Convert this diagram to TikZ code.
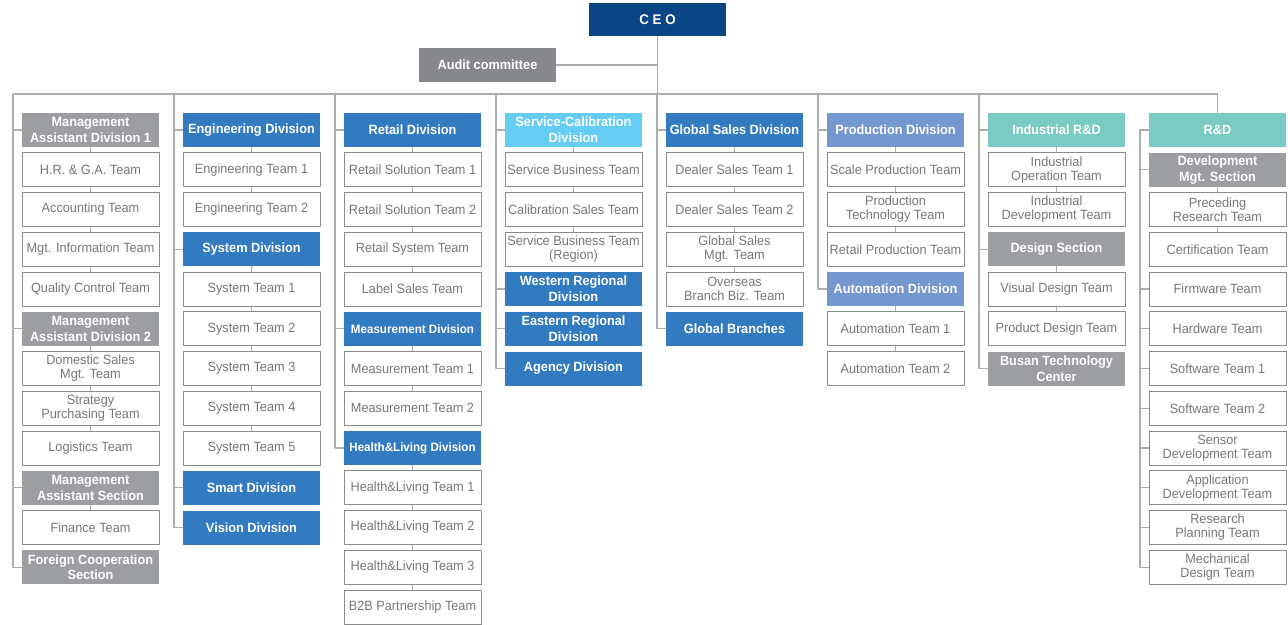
\documentclass[tikz,border=0pt]{standalone}
\usepackage{fontspec}
\setmainfont[FakeStretch=0.95]{Liberation Sans}
\definecolor{ceoblue}{HTML}{0B4586}
\definecolor{auditgray}{HTML}{87888C}
\definecolor{secgray}{HTML}{9D9EA2}
\definecolor{divblue}{HTML}{327BC1}
\definecolor{svcblue}{HTML}{65CDF3}
\definecolor{prodblue}{HTML}{7597CF}
\definecolor{labteal}{HTML}{7ACBC4}
\definecolor{teamline}{HTML}{8A8A8A}
\definecolor{teamtext}{HTML}{78787A}
\definecolor{linkgray}{HTML}{ADADAD}
\begin{document}
\begin{tikzpicture}[x=1pt, y=-1pt, line join=round,
    box/.style={minimum width=137pt, minimum height=34pt, inner sep=0pt, align=center, text=white, font=\fontsize{13.4}{15.8}\selectfont\bfseries},
    team/.style={box, draw=teamline, line width=1pt, fill=white, text=teamtext, font=\fontsize{13.4}{14}\selectfont},
    sec/.style={box, fill=secgray},
    div/.style={box, fill=divblue},
    divsmall/.style={div, font=\fontsize{12.2}{14}\selectfont\bfseries},
    svc/.style={box, fill=svcblue},
    prod/.style={box, fill=prodblue},
    lab/.style={box, fill=labteal},
    link/.style={draw=linkgray, line width=1.2pt}]
    \useasboundingbox (0,0) rectangle (1288,624);
    \def\rowy#1{130+39.75*(#1-1)}

    \node[box, fill=ceoblue, minimum height=33pt, font=\fontsize{14}{16}\selectfont\bfseries] (ceo) at (657.5,19.5) {C E O};
    \node[box, fill=auditgray] (audit) at (487.5,65) {Audit committee};

    % column A
    \foreach \r/\s/\t in {1/sec/{Management\\Assistant Division 1}, 2/team/{H.R. \& G.A. Team}, 3/team/{Accounting Team}, 4/team/{Mgt. Information Team}, 5/team/{Quality Control Team}, 6/sec/{Management\\Assistant Division 2}, 7/team/{Domestic Sales\\Mgt. Team}, 8/team/{Strategy\\Purchasing Team}, 9/team/{Logistics Team}, 10/sec/{Management\\Assistant Section}, 11/team/{Finance Team}, 12/sec/{Foreign Cooperation\\Section}}
        \node[\s] (A\r) at (90.5,{\rowy{\r}}) {\t};
    % column B
    \foreach \r/\s/\t in {1/div/{Engineering Division}, 2/team/{Engineering Team 1}, 3/team/{Engineering Team 2}, 4/div/{System Division}, 5/team/{System Team 1}, 6/team/{System Team 2}, 7/team/{System Team 3}, 8/team/{System Team 4}, 9/team/{System Team 5}, 10/div/{Smart Division}, 11/div/{Vision Division}}
        \node[\s] (B\r) at (251.5,{\rowy{\r}}) {\t};
    % column C
    \foreach \r/\s/\t in {1/div/{Retail Division}, 2/team/{Retail Solution Team 1}, 3/team/{Retail Solution Team 2}, 4/team/{Retail System Team}, 5/team/{Label Sales Team}, 6/divsmall/{Measurement Division}, 7/team/{Measurement Team 1}, 8/team/{Measurement Team 2}, 9/divsmall/{Health\&Living Division}, 10/team/{Health\&Living Team 1}, 11/team/{Health\&Living Team 2}, 12/team/{Health\&Living Team 3}, 13/team/{B2B Partnership Team}}
        \node[\s] (C\r) at (412.5,{\rowy{\r}}) {\t};
    % column D
    \foreach \r/\s/\t in {1/svc/{Service-Calibration\\Division}, 2/team/{Service Business Team}, 3/team/{Calibration Sales Team}, 4/team/{Service Business Team\\(Region)}, 5/div/{Western Regional\\Division}, 6/div/{Eastern Regional\\Division}, 7/div/{Agency Division}}
        \node[\s] (D\r) at (573.5,{\rowy{\r}}) {\t};
    % column E
    \foreach \r/\s/\t in {1/div/{Global Sales Division}, 2/team/{Dealer Sales Team 1}, 3/team/{Dealer Sales Team 2}, 4/team/{Global Sales\\Mgt. Team}, 5/team/{Overseas\\Branch Biz. Team}, 6/div/{Global Branches}}
        \node[\s] (E\r) at (734.5,{\rowy{\r}}) {\t};
    % column F
    \foreach \r/\s/\t in {1/prod/{Production Division}, 2/team/{Scale Production Team}, 3/team/{Production\\Technology Team}, 4/team/{Retail Production Team}, 5/prod/{Automation Division}, 6/team/{Automation Team 1}, 7/team/{Automation Team 2}}
        \node[\s] (F\r) at (895.5,{\rowy{\r}}) {\t};
    % column G
    \foreach \r/\s/\t in {1/lab/{Industrial R\&D}, 2/team/{Industrial\\Operation Team}, 3/team/{Industrial\\Development Team}, 4/sec/{Design Section}, 5/team/{Visual Design Team}, 6/team/{Product Design Team}, 7/sec/{Busan Technology\\Center}}
        \node[\s] (G\r) at (1056.5,{\rowy{\r}}) {\t};
    % column H
    \foreach \r/\s/\t in {1/lab/{R\&D}, 2/sec/{Development\\Mgt. Section}, 3/team/{Preceding\\Research Team}, 4/team/{Certification Team}, 5/team/{Firmware Team}, 6/team/{Hardware Team}, 7/team/{Software Team 1}, 8/team/{Software Team 2}, 9/team/{Sensor\\Development Team}, 10/team/{Application\\Development Team}, 11/team/{Research\\Planning Team}, 12/team/{Mechanical\\Design Team}}
        \node[\s] (H\r) at (1217.5,{\rowy{\r}}) {\t};

    % buses
    \foreach \c/\x in {A/13,B/174,C/335,D/496,E/657,F/818,G/979}
        \coordinate (\c top) at (\x,94);
    \coordinate (Hbus) at (1140,130);
    \draw[link] (ceo) -- (ceo |- Atop);
    \draw[link] (audit) -- (audit -| ceo);
    \draw[link] (Atop) -| (H1);
    \foreach \c/\e in {A/12,B/11,C/9,D/7,E/6,F/5,G/7}
        \draw[link] (\c top) |- (\c\e);
    \draw[link] (H1) -- (Hbus) |- (H12);
    \foreach \c/\r in {A/1,A/6,A/10,B/1,B/4,B/10,C/1,C/6,D/1,D/5,D/6,E/1,F/1,G/1,G/4}
        \draw[link] (\c\r.west) -- (\c\r.west -| \c top);
    \foreach \r in {2,5,6,7,8,9,10,11}
        \draw[link] (H\r.west) -- (H\r.west -| Hbus);

    % stacks
    \foreach \c/\a/\b in {A/1/2,A/2/3,A/3/4,A/4/5,A/6/7,A/7/8,A/8/9,A/10/11, B/1/2,B/2/3,B/4/5,B/5/6,B/6/7,B/7/8,B/8/9, C/1/2,C/2/3,C/3/4,C/4/5,C/6/7,C/7/8,C/9/10,C/10/11,C/11/12,C/12/13, D/1/2,D/2/3,D/3/4, E/1/2,E/2/3,E/3/4,E/4/5, F/1/2,F/2/3,F/3/4,F/5/6,F/6/7, G/1/2,G/2/3,G/4/5,G/5/6, H/2/3,H/3/4}
        \draw[link] (\c\a) -- (\c\b);
\end{tikzpicture}
\end{document}
